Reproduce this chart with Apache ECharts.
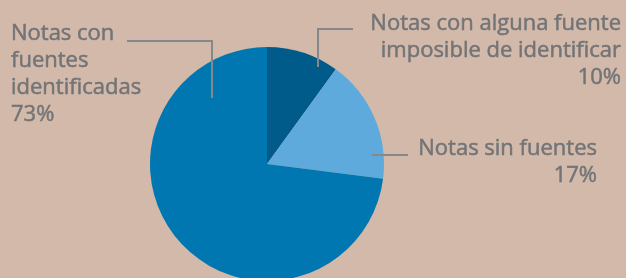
<!DOCTYPE html>
<html>
<head>
<meta charset="utf-8">
<script src="https://cdn.jsdelivr.net/npm/echarts@6/dist/echarts.min.js"></script>
<style>
html,body{margin:0;padding:0;background:#d3b9a9;}
#c{width:626px;height:278px;}
</style>
</head>
<body>
<div id="c"></div>
<script>
const categories = ["Notas con alguna fuente\nimposible de identificar", "Notas sin fuentes", "Notas con\nfuentes\nidentificadas"];
const values = [10, 17, 73];
const colors = ["#005b8a", "#5eaadc", "#0077b0"];

const chart = echarts.init(document.getElementById('c'), null, {renderer: 'canvas'});

// label placement (layout only)
const labelPos = [
  {x: 621, y: 10, align: 'right', line: [[318, 67], [318, 29], [353, 29]]},
  {x: 597, y: 135, align: 'right', line: [[372, 155], [390, 155], [408, 155]]},
  {x: 11, y: 20, align: 'left', line: [[212, 98], [212, 41], [127, 41]]}
];

const pieBase = {
  type: 'pie',
  center: [267, 164],
  radius: 117,
  startAngle: 90,
  clockwise: true,
  emphasis: {disabled: true}
};

chart.setOption({
  backgroundColor: '#d3b9a9',
  animation: false,
  series: [
    Object.assign({}, pieBase, {
      z: 1,
      data: categories.map((n, i) => ({name: n, value: values[i], itemStyle: {color: colors[i]}})),
      label: {show: false},
      labelLine: {show: false}
    }),
    Object.assign({}, pieBase, {
      z: 5,
      silent: true,
      data: categories.map((n, i) => ({name: n, value: values[i], itemStyle: {color: 'rgba(0,0,0,0)'}})),
      label: {
        show: true,
        formatter: p => p.name + '\n' + p.value + '%',
        color: '#727477',
        textBorderColor: '#727477',
        textBorderWidth: 0.5,
        fontFamily: 'Open Sans',
        fontSize: 22,
        lineHeight: 27,
        overflow: 'none'
      },
      labelLine: {
        show: true,
        lineStyle: {color: '#86888a', width: 2}
      },
      labelLayout: function (params) {
        const p = labelPos[params.dataIndex];
        return {
          x: p.x, y: p.y,
          align: p.align,
          verticalAlign: 'top',
          labelLinePoints: p.line
        };
      }
    })
  ]
});
</script>
</body>
</html>
